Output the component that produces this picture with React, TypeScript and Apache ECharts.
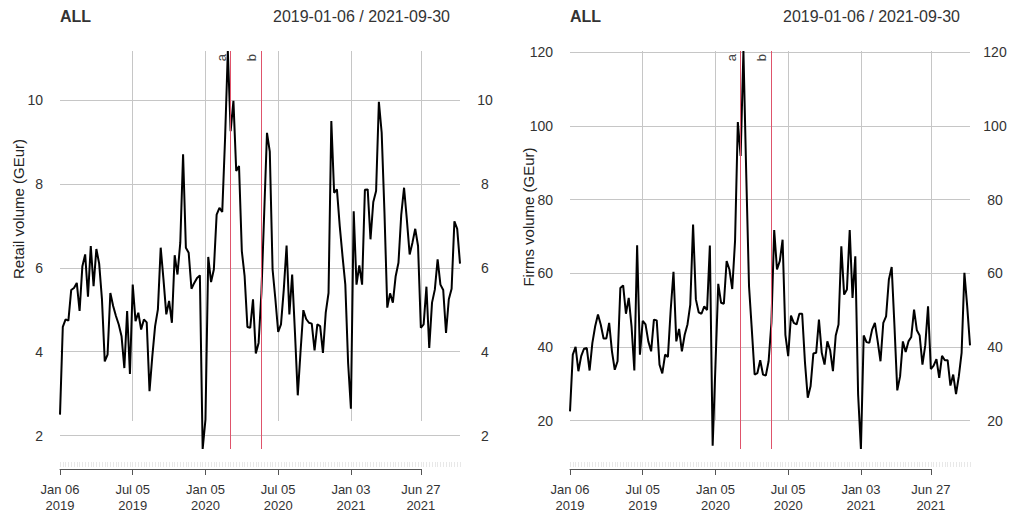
import React, { useEffect, useRef } from 'react';
import * as echarts from 'echarts';

// Weekly series, index 0 = week of 2019-01-06
const retailVolume = [
  2.5, 4.59, 4.77, 4.74, 5.47, 5.52, 5.64, 4.97, 6.04, 6.32,
  5.31, 6.52, 5.56, 6.45, 6.1, 5.25, 3.77, 3.93, 5.4, 5.09,
  4.85, 4.65, 4.37, 3.61, 4.97, 3.47, 5.6, 4.73, 4.93, 4.53,
  4.77, 4.7, 3.06, 3.89, 4.61, 5.01, 6.48, 5.72, 4.89, 5.21,
  4.69, 6.3, 5.84, 6.6, 8.71, 6.48, 6.36, 5.5, 5.64, 5.76,
  5.82, 1.68, 2.38, 6.26, 5.66, 5.96, 7.27, 7.43, 7.33, 9.06,
  11.17, 9.26, 9.98, 8.31, 8.43, 6.4, 5.8, 4.59, 4.57, 5.25,
  3.96, 4.21, 5.4, 7.3, 9.22, 8.77, 5.96, 5.25, 4.47, 4.65,
  5.48, 6.53, 4.89, 5.84, 4.45, 2.96, 4.01, 4.99, 4.78, 4.69,
  4.67, 4.03, 4.65, 4.61, 3.97, 4.93, 5.4, 9.5, 7.79, 7.87,
  7.0, 6.28, 5.6, 3.73, 2.64, 7.35, 5.6, 6.06, 5.6, 7.86,
  7.87, 6.68, 7.57, 7.83, 9.96, 9.22, 7.31, 5.05, 5.39, 5.17,
  5.8, 6.12, 7.27, 7.91, 7.15, 6.32, 6.6, 6.93, 6.52, 4.57,
  4.65, 5.55, 4.09, 5.17, 5.48, 6.2, 5.6, 5.47, 4.45, 5.25,
  5.5, 7.11, 6.93, 6.1,
];

const firmsVolume = [
  22.5, 37.9, 40.0, 33.4, 37.5, 39.5, 39.7, 33.6, 41.1, 45.6,
  48.8, 46.0, 42.3, 42.3, 46.5, 38.8, 33.8, 36.1, 56.0, 56.7,
  49.0, 53.3, 45.6, 33.6, 67.6, 37.9, 47.1, 46.1, 41.5, 38.8,
  47.4, 47.2, 35.2, 32.8, 37.9, 37.3, 50.1, 60.4, 41.5, 44.9,
  38.8, 43.3, 46.1, 51.5, 73.2, 52.9, 49.4, 49.0, 51.0, 50.0,
  67.5, 13.2, 35.0, 57.1, 52.0, 51.7, 63.3, 61.0, 55.7, 68.7,
  101.0, 91.8, 120.3, 87.0, 56.5, 44.7, 32.5, 32.9, 36.4, 32.5,
  32.2, 36.1, 46.5, 71.7, 61.0, 63.3, 69.1, 43.3, 37.5, 48.5,
  46.5, 46.1, 49.0, 49.0, 35.8, 26.2, 29.3, 38.2, 38.4, 47.4,
  38.4, 35.2, 41.5, 39.1, 33.4, 43.1, 46.1, 67.3, 54.2, 55.6,
  71.7, 53.3, 64.6, 27.1, 12.3, 43.1, 41.3, 41.1, 44.7, 46.5,
  41.5, 36.1, 46.5, 48.3, 58.3, 61.7, 45.6, 28.2, 32.0, 41.5,
  38.6, 41.5, 42.7, 50.1, 44.5, 43.1, 35.2, 40.4, 51.0, 34.0,
  34.9, 36.7, 31.6, 37.6, 36.4, 36.4, 29.5, 32.5, 27.2, 32.0,
  38.4, 60.1, 51.0, 40.4,
];

const retailTicks = [2, 4, 6, 8, 10];
const firmsTicks = [20, 40, 60, 80, 100, 120];
const xTickWeeks = [0, 26, 52, 78, 104, 129];
const xTickLabels = ['Jan 06\n2019', 'Jul 05\n2019', 'Jan 05\n2020', 'Jul 05\n2020', 'Jan 03\n2021', 'Jun 27\n2021'];
const xGridWeeks = [26, 52, 78, 104, 129];
const eventNames = ['a', 'b'];
const eventWeeks = [61, 72];
const panelTitle = 'ALL';
const dateRange = '2019-01-06 / 2021-09-30';

export default function App() {
  const ref = useRef<HTMLDivElement>(null);
  useEffect(() => {
    const chart = echarts.init(ref.current!, null, { renderer: 'svg' });
    const FONT = "'Liberation Sans', Arial, Helvetica, sans-serif";
    const panels = [
      { left: 60, values: retailVolume, ticks: retailTicks, name: 'Retail volume (GEur)', nameX: 18.5, nameY: 209 },
      { left: 570, values: firmsVolume, ticks: firmsTicks, name: 'Firms volume (GEur)', nameX: 528, nameY: 217 },
    ];
    const W = 400, TOP = 51, H = 398;
    const n = retailVolume.length;
    const lastTick = xTickWeeks[xTickWeeks.length - 1];
    const grid: any[] = [], xAxis: any[] = [], yAxis: any[] = [], series: any[] = [], title: any[] = [], graphic: any[] = [];
    const gridColor = '#c6c6c6';
    const textColor = '#333';
    const eventColor = '#DF536B';

    panels.forEach((p) => {
      const g0 = grid.length;
      grid.push({ left: p.left, top: TOP, width: W, height: H });   // data
      grid.push({ left: p.left, top: TOP, width: W, height: 370 }); // vertical grid lines
      grid.push({ left: p.left, top: TOP, width: (W * lastTick) / (n - 1), height: 418 }); // date axis

      const xMain = xAxis.length;
      xAxis.push({
        type: 'value', gridIndex: g0, min: 0, max: n - 1, interval: 1, offset: 13,
        axisLine: { show: false },
        axisTick: { show: true, length: 5, lineStyle: { color: '#e8e8e8' } },
        axisLabel: { show: false }, splitLine: { show: false },
      });
      xAxis.push({
        type: 'value', gridIndex: g0 + 1, min: 0, max: n - 1,
        axisLine: { show: false },
        axisTick: { show: false, customValues: xGridWeeks },
        axisLabel: { show: false, customValues: xGridWeeks },
        splitLine: { show: true, lineStyle: { color: gridColor, width: 1 } },
      });
      xAxis.push({
        type: 'value', gridIndex: g0 + 2, min: 0, max: lastTick,
        axisLine: { show: true, onZero: false, lineStyle: { color: '#555', width: 1 } },
        axisTick: { show: true, length: 6, customValues: xTickWeeks, lineStyle: { color: '#555' } },
        axisLabel: {
          show: true, customValues: xTickWeeks,
          formatter: (v: number) => { const j = xTickWeeks.indexOf(v); return j >= 0 ? xTickLabels[j] : ''; },
          fontSize: 13, lineHeight: 16, color: textColor, margin: 12, fontFamily: FONT,
        },
        splitLine: { show: false },
      });

      const vmin = Math.min(...p.values), vmax = Math.max(...p.values);
      const yMain = yAxis.length;
      yAxis.push({
        type: 'value', gridIndex: g0, min: vmin, max: vmax, position: 'left',
        axisLine: { show: false },
        axisTick: { show: false, customValues: p.ticks },
        axisLabel: { customValues: p.ticks, fontSize: 14, color: textColor, margin: 17, fontFamily: FONT },
        splitLine: { show: true, lineStyle: { color: gridColor, width: 1 } },
      });
      yAxis.push({
        type: 'value', gridIndex: g0, min: vmin, max: vmax, position: 'right',
        axisLine: { show: false },
        axisTick: { show: false, customValues: p.ticks },
        axisLabel: { customValues: p.ticks, fontSize: 14, color: textColor, margin: 25, align: 'center', fontFamily: FONT },
        splitLine: { show: false },
      });
      yAxis.push({ type: 'value', gridIndex: g0 + 1, show: false, min: 0, max: 1 });
      yAxis.push({ type: 'value', gridIndex: g0 + 2, show: false, min: 0, max: 1 });

      series.push({
        type: 'line', xAxisIndex: xMain, yAxisIndex: yMain,
        data: p.values.map((v, i) => [i, v]),
        showSymbol: false, symbol: 'none',
        lineStyle: { color: '#000', width: 2 }, itemStyle: { color: '#000' },
        z: 3,
        markLine: {
          silent: true, symbol: ['none', 'none'],
          lineStyle: { color: eventColor, width: 1, type: 'solid' },
          label: { show: true, formatter: '{b}', position: 'insideEndTop', color: '#444', fontSize: 13, fontFamily: FONT, distance: 3 },
          data: eventNames.map((nm, j) => ({
            name: nm, xAxis: eventWeeks[j],
            lineStyle: { color: eventColor, width: 1, type: 'solid' },
          })),
        },
      });

      title.push({ text: panelTitle, left: p.left, top: 8, padding: 0, textStyle: { fontSize: 16, fontWeight: 'bold', color: textColor, fontFamily: FONT } });
      title.push({ text: dateRange, right: 1015 - (p.left + 390), top: 8, padding: 0, textStyle: { fontSize: 16, fontWeight: 'normal', color: textColor, fontFamily: FONT } });

      graphic.push({
        type: 'text', x: p.nameX, y: p.nameY, rotation: Math.PI / 2,
        style: {
          text: p.name, fontSize: 15, fontFamily: FONT, fill: '#222',
          align: 'center', verticalAlign: 'middle', textAlign: 'center', textVerticalAlign: 'middle',
        },
      });
    });

    chart.setOption({
      animation: false,
      backgroundColor: '#fff',
      textStyle: { fontFamily: FONT },
      title, grid, xAxis, yAxis, series, graphic,
    });
    return () => chart.dispose();
  }, []);
  return <div ref={ref} style={{ position: 'fixed', left: 0, top: 0, width: 1015, height: 515 }} />;
}
